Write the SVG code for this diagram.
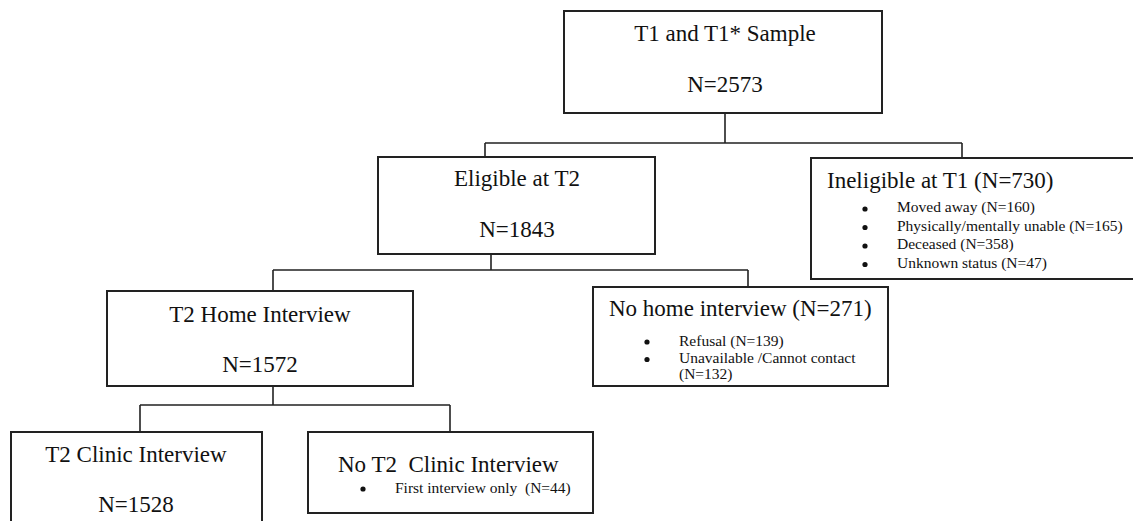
<svg xmlns="http://www.w3.org/2000/svg" width="1133" height="521" viewBox="0 0 1133 521">
<style>
.box{fill:#fff;stroke:#222;stroke-width:2}
.con{fill:none;stroke:#222;stroke-width:1.6}
.t{font-family:"Liberation Serif","Times New Roman",serif;font-size:23px;fill:#111}
.c{text-anchor:middle}
.s{font-family:"Liberation Serif","Times New Roman",serif;font-size:15.5px;fill:#111}
.b{fill:#111}
</style>
<rect width="1133" height="521" fill="#fff"/>
<g id="connectors">
<path class="con" d="M725,113 V143 M485,143 H962 M485,143 V157 M962,143 V158"/>
<path class="con" d="M491,254 V270 M273,270 H748 M273,270 V291 M748,270 V287"/>
<path class="con" d="M273,386 V405 M140,405 H450 M140,405 V432 M450,405 V432"/>
</g>
<g id="n-sample">
<rect class="box" x="564" y="11" width="318" height="102"/>
<text class="t c" x="725" y="41">T1 and T1* Sample</text>
<text class="t c" x="725" y="92">N=2573</text>
</g>
<g id="n-eligible">
<rect class="box" x="378" y="157" width="277" height="97"/>
<text class="t c" x="517" y="186">Eligible at T2</text>
<text class="t c" x="517" y="237">N=1843</text>
</g>
<g id="n-ineligible">
<rect class="box" x="811" y="158" width="330" height="121"/>
<text class="t" x="827" y="188">Ineligible at T1 (N=730)</text>
<circle class="b" cx="865" cy="209" r="2.6"/>
<circle class="b" cx="865" cy="227.5" r="2.6"/>
<circle class="b" cx="865" cy="246" r="2.6"/>
<circle class="b" cx="865" cy="264.5" r="2.6"/>
<text class="s" x="897" y="212">Moved away (N=160)</text>
<text class="s" x="897" y="230.5">Physically/mentally unable (N=165)</text>
<text class="s" x="897" y="249">Deceased (N=358)</text>
<text class="s" x="897" y="267.5">Unknown status (N=47)</text>
</g>
<g id="n-home">
<rect class="box" x="107" y="291" width="306" height="95"/>
<text class="t c" x="260" y="322">T2 Home Interview</text>
<text class="t c" x="260" y="372">N=1572</text>
</g>
<g id="n-nohome">
<rect class="box" x="593" y="287" width="295" height="99"/>
<text class="t" x="609" y="316">No home interview (N=271)</text>
<circle class="b" cx="647" cy="342" r="2.6"/>
<circle class="b" cx="647" cy="359.5" r="2.6"/>
<text class="s" x="679" y="346">Refusal (N=139)</text>
<text class="s" x="679" y="363">Unavailable /Cannot contact</text>
<text class="s" x="679" y="379">(N=132)</text>
</g>
<g id="n-clinic">
<rect class="box" x="11" y="432" width="251" height="100"/>
<text class="t c" x="136" y="462">T2 Clinic Interview</text>
<text class="t c" x="136" y="512">N=1528</text>
</g>
<g id="n-noclinic">
<rect class="box" x="308" y="432" width="285" height="81"/>
<text class="t" x="338" y="472" style="white-space:pre">No T2  Clinic Interview</text>
<circle class="b" cx="363" cy="489" r="2.6"/>
<text class="s" x="395" y="493" style="white-space:pre">First interview only  (N=44)</text>
</g>
</svg>
